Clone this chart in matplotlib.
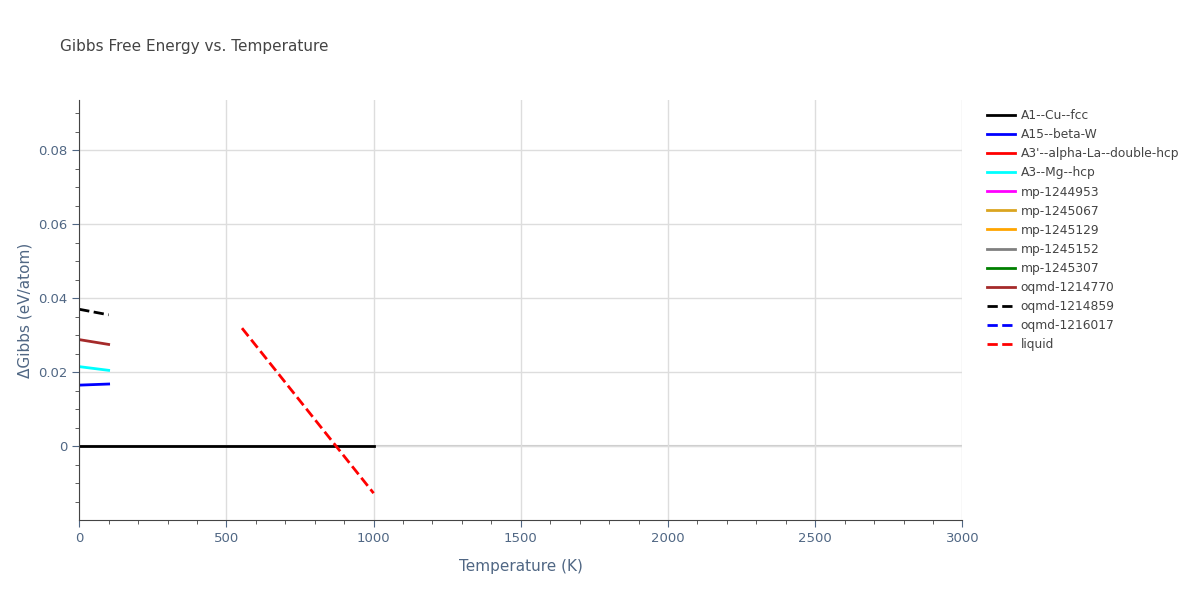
import numpy as np
import matplotlib
matplotlib.use("Agg")
import matplotlib.pyplot as plt

names = ["A1--Cu--fcc", "A15--beta-W", "A3'--alpha-La--double-hcp", "A3--Mg--hcp",
         "mp-1244953", "mp-1245067", "mp-1245129", "mp-1245152", "mp-1245307",
         "oqmd-1214770", "oqmd-1214859", "oqmd-1216017", "liquid"]
colors = ["black", "blue", "red", "cyan", "magenta", "#DAA520", "orange", "gray",
          "green", "brown", "black", "blue", "red"]
styles = ["-"] * 10 + ["--"] * 3

temps = {
    "A1--Cu--fcc": [0, 1000],
    "A15--beta-W": [0, 100],
    "A3--Mg--hcp": [0, 100],
    "oqmd-1214770": [0, 100],
    "oqmd-1214859": [0, 100],
    "liquid": [553, 1000],
}
gibbs = {
    "A1--Cu--fcc": [0, 0],
    "A15--beta-W": [0.0165, 0.0168],
    "A3--Mg--hcp": [0.0215, 0.0205],
    "oqmd-1214770": [0.0288, 0.0275],
    "oqmd-1214859": [0.0370, 0.0355],
    "liquid": [0.0319, -0.0127],
}

fig, ax = plt.subplots(figsize=(12, 6), dpi=100)
fig.subplots_adjust(left=0.066, right=0.802, top=0.833, bottom=0.133)

for name, c, ls in zip(names, colors, styles):
    t = temps.get(name, [])
    g = gibbs.get(name, [])
    ax.plot(t, g, color=c, ls=ls, lw=2, label=name)

ax.axhline(0, color="#cccccc", lw=1.5, zorder=0)
ax.set_xlim(0, 3000)
ax.set_ylim(-0.02, 0.0935)
ax.set_xticks(np.arange(0, 3001, 500))
ax.set_yticks([0, 0.02, 0.04, 0.06, 0.08])
ax.set_yticklabels(["0", "0.02", "0.04", "0.06", "0.08"])
ax.set_xticks(np.arange(0, 3001, 100), minor=True)
ax.set_yticks(np.arange(-0.015, 0.0935, 0.005), minor=True)
ax.grid(True, which="major", color="#dddddd", lw=1)
for s in ["top", "right"]:
    ax.spines[s].set_visible(False)
ax.spines["left"].set_color("#444444")
ax.spines["bottom"].set_color("#444444")
ax.tick_params(colors="#506784", labelsize=9.5, direction="out", length=5)
ax.tick_params(which="minor", length=3, color="#444444")
ax.set_xlabel("Temperature (K)", color="#506784", fontsize=11, labelpad=10)
ax.set_ylabel("ΔGibbs (eV/atom)", color="#506784", fontsize=11)
fig.text(0.05, 0.915, "Gibbs Free Energy vs. Temperature", color="#444444", fontsize=11)
leg = ax.legend(loc="upper left", bbox_to_anchor=(1.015, 1.005), frameon=False,
                fontsize=8.8, handlelength=2.3, handletextpad=0.5, labelspacing=0.5)
for t in leg.get_texts():
    t.set_color("#444444")

fig.savefig("out.png")
